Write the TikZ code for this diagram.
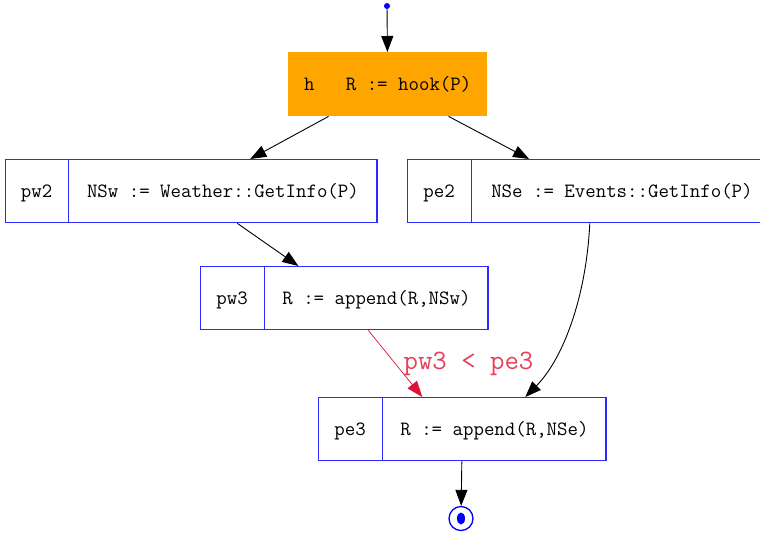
\documentclass[tikz,border=0pt]{standalone}
\usepackage{fontspec}
\usepackage{tikz}
\usetikzlibrary{shapes.multipart,arrows.meta}
\definecolor{hookorange}{HTML}{FFA500}
\definecolor{boxblue}{HTML}{2B2BFF}
\definecolor{orderred}{HTML}{DC143C}
\definecolor{labelred}{HTML}{E8405A}
\newcommand{\cellbox}[2]{\makebox[#1]{\rule[-25pt]{0pt}{63pt}#2}}

\begin{document}
\begin{tikzpicture}[x=1pt,y=-1pt,
  every node/.style={font=\ttfamily\fontsize{20.3}{22}\selectfont},
  proc/.style={rectangle split, rectangle split horizontal, rectangle split parts=2,
    draw=boxblue, line width=1.3pt, inner sep=0pt, anchor=north west},
  hookbox/.style={fill=hookorange, minimum width=199pt, minimum height=64pt,
    inner sep=0pt, anchor=north west},
  initdot/.style={circle, fill=blue, inner sep=0pt, minimum size=6pt},
  finaldot/.style={circle, draw=blue, line width=1.3pt, minimum size=24pt, inner sep=0pt,
    path picture={\fill[blue] (path picture bounding box.center) ellipse (4pt and 6pt);}},
  flow/.style={-{Triangle[length=16pt,width=12pt]}, line width=0.9pt},
  ordered/.style={-{Triangle[length=16pt,width=12pt]}, draw=orderred, line width=0.7pt},
  ordlabel/.style={font=\ttfamily\fontsize{28}{30}\selectfont, text=labelred, inner sep=0pt}]
\useasboundingbox (0,0) rectangle (760,538);
\node[initdot] (init) at (387,6) {};
\node[hookbox] (h) at (288,52) {h\ \ \ R := hook(P)};
\node[proc] (pw2) at (5,159) {\cellbox{62pt}{pw2}\nodepart{two}\cellbox{308pt}{NSw := Weather::GetInfo(P)}};
\node[proc] (pe2) at (407,159) {\cellbox{63pt}{pe2}\nodepart{two}\cellbox{300pt}{NSe := Events::GetInfo(P)}};
\node[proc] (pw3) at (200,266) {\cellbox{63pt}{pw3}\nodepart{two}\cellbox{223pt}{R := append(R,NSw)}};
\node[proc] (pe3) at (318,397) {\cellbox{63pt}{pe3}\nodepart{two}\cellbox{223pt}{R := append(R,NSe)}};
\node[finaldot] (final) at (461,518.5) {};
\draw[flow] (init) -- (h);
\draw[flow] (h) -- (pw2);
\draw[flow] (h) -- (pe2);
\draw[flow] (pw2) -- (pw3);
\draw[flow] (pe2.south) .. controls (586,300) and (562,360) .. ([xshift=63pt]pe3.north);
\draw[ordered] ([xshift=24pt]pw3.south) -- node[ordlabel, midway, right=8pt] {pw3 < pe3} ([xshift=-40pt]pe3.north);
\draw[flow] (pe3) -- (final);
\end{tikzpicture}
\end{document}
